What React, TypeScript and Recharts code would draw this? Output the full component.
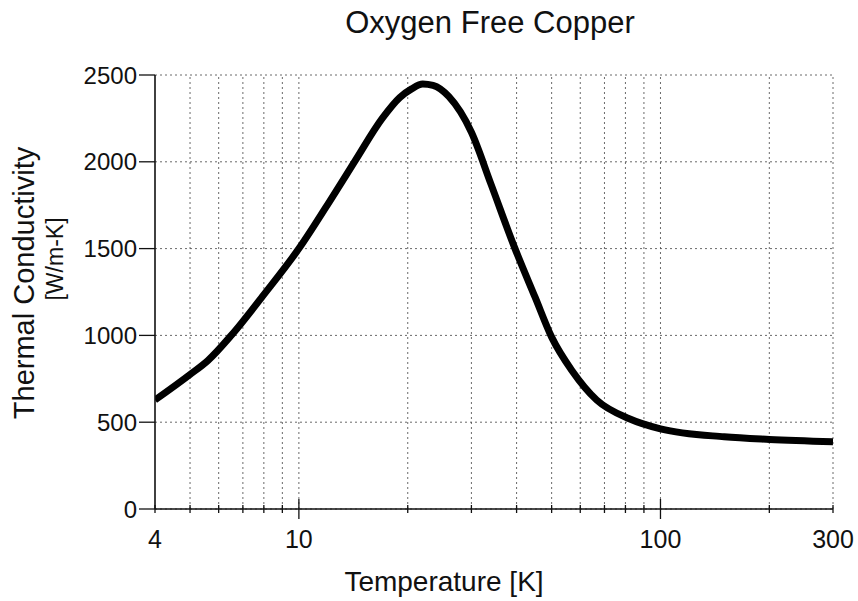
import React from "react";
import {
  LineChart,
  Line,
  XAxis,
  YAxis,
  CartesianGrid,
  ReferenceLine,
} from "recharts";

// Temperature [K] and thermal conductivity [W/m-K]
const temps = [4, 5, 5.6, 6.5, 8, 10, 12.4, 14.3, 17, 19, 20.5, 22, 23.5, 26, 30, 34, 39.6, 45, 50, 57, 66.6, 82, 100, 150, 200, 300];
const conductivity = [628, 775, 855, 1000, 1235, 1500, 1800, 2005, 2250, 2370, 2420, 2448, 2440, 2375, 2170, 1870, 1500, 1220, 990, 795, 628, 520, 462, 416, 401, 388];

const xTicks = [4, 5, 6, 7, 8, 9, 10, 20, 30, 40, 50, 60, 70, 80, 90, 100, 200, 300];
const xLabels = [4, 10, 100, 300];
const gridX = [5, 6, 7, 8, 9, 10, 20, 30, 40, 50, 60, 70, 80, 90, 100, 200, 300];
const yTicks = [0, 500, 1000, 1500, 2000, 2500];

const data = temps.map((t, i) => ({ t, k: conductivity[i] }));

const FONT = "'Liberation Sans', Arial, Helvetica, sans-serif";
const INK = "#111";

function XTick(props: any) {
  const { x, y, payload } = props;
  const v = payload.value;
  const major = v === 10 || v === 100;
  return (
    <g>
      <line x1={x} x2={x} y1={y - (major ? 10 : 4)} y2={y + (major ? 10 : 4)} stroke={INK} strokeWidth={1.3} />
      {xLabels.includes(v) && (
        <text x={x} y={y + 39} textAnchor="middle" fontSize={25} fill={INK} fontFamily={FONT}>
          {v}
        </text>
      )}
    </g>
  );
}

function XTitle() {
  return (
    <text x={444} y={591} textAnchor="middle" fontSize={28} fill={INK} fontFamily={FONT}>
      Temperature [K]
    </text>
  );
}

function Titles() {
  return (
    <g fontFamily={FONT} fill={INK}>
      <text x={490} y={33} textAnchor="middle" fontSize={31}>
        Oxygen Free Copper
      </text>
      <text transform="translate(34, 283) rotate(-90)" textAnchor="middle" fontSize={29}>
        Thermal Conductivity
      </text>
      <text transform="translate(63, 259) rotate(-90)" textAnchor="middle" fontSize={23}>
        [W/m-K]
      </text>
    </g>
  );
}

export default function App() {
  return (
    <div style={{ position: "absolute", left: 0, top: 0, width: 858, height: 601, background: "#fff" }}>
      <LineChart width={858} height={601} data={data} margin={{ top: 75, right: 25, left: 95, bottom: 52 }}>
        <CartesianGrid vertical={false} stroke="#444" strokeDasharray="2 3" strokeWidth={0.8} />
        {gridX.map((v) => (
          <ReferenceLine key={v} x={v} stroke="#444" strokeDasharray="2 3" strokeWidth={0.8} />
        ))}
        <XAxis
          dataKey="t"
          type="number"
          scale="log"
          domain={[4, 300]}
          ticks={xTicks}
          interval={0}
          allowDataOverflow
          tick={<XTick />}
          tickLine={false}
          tickSize={0}
          tickMargin={0}
          axisLine={{ stroke: INK, strokeWidth: 1.6 }}
          height={40}
          label={{ content: <XTitle /> }}
        />
        <YAxis
          type="number"
          domain={[0, 2500]}
          ticks={yTicks}
          interval={0}
          width={60}
          tick={{ fontSize: 24, fill: INK, fontFamily: FONT }}
          tickLine={{ stroke: INK, strokeWidth: 1.3 }}
          tickSize={16}
          tickMargin={2}
          axisLine={{ stroke: INK, strokeWidth: 1.6 }}
          label={{ content: <Titles /> }}
        />
        <Line
          type="monotone"
          dataKey="k"
          stroke="#000"
          strokeWidth={7}
          dot={false}
          isAnimationActive={false}
        />
      </LineChart>
    </div>
  );
}
